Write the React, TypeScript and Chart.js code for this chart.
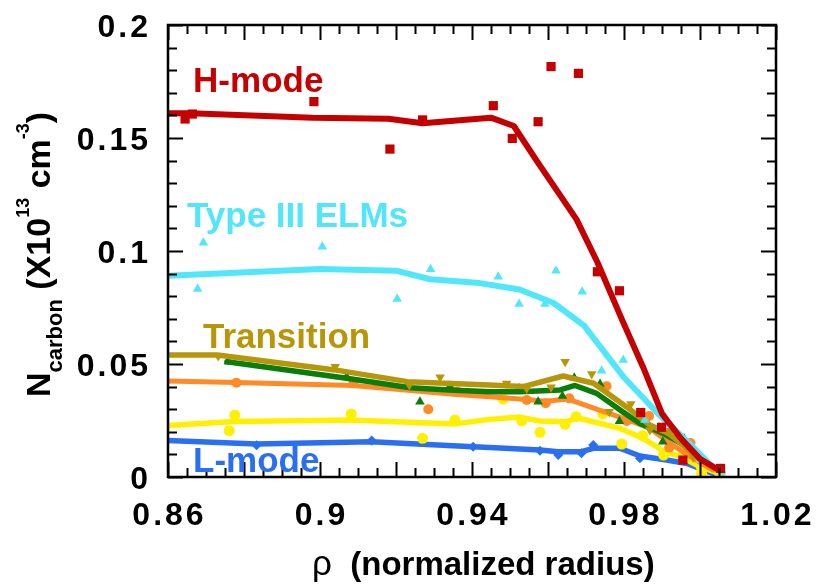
import { useEffect, useRef } from "react";
import { Chart, registerables } from "chart.js";

Chart.register(...registerables);

// Axis ranges and labelled ticks
const X_MIN = 0.86;
const X_MAX = 1.02;
const Y_MIN = 0;
const Y_MAX = 0.2;
const xTickLabels = [0.86, 0.9, 0.94, 0.98, 1.02];
const yTickLabels = [0, 0.05, 0.1, 0.15, 0.2];

// H-mode: fitted profile and measurements
const hModeFitX = [0.86, 0.866, 0.898, 0.918, 0.927, 0.945, 0.951, 0.957, 0.9675, 0.973, 0.9795, 0.985, 0.99, 0.995, 1.0, 1.005];
const hModeFitY = [0.161, 0.161, 0.159, 0.1585, 0.1565, 0.159, 0.1553, 0.14, 0.114, 0.095, 0.0695, 0.0487, 0.028, 0.017, 0.008, 0.003];
const hModeX = [0.8645, 0.8664, 0.8984, 0.9184, 0.927, 0.9456, 0.9506, 0.9574, 0.9608, 0.968, 0.973, 0.9788, 0.9844, 0.9899, 0.9955, 1.0054];
const hModeY = [0.1584, 0.1606, 0.1661, 0.1451, 0.158, 0.1643, 0.1498, 0.1572, 0.1816, 0.1786, 0.0908, 0.0824, 0.0285, 0.022, 0.0075, 0.0038];

// Type III ELMs
const elmFitX = [0.86, 0.9, 0.92, 0.929, 0.942, 0.9525, 0.9615, 0.9695, 0.98, 0.989, 0.9965, 1.003, 1.006];
const elmFitY = [0.089, 0.092, 0.0913, 0.0875, 0.0858, 0.083, 0.077, 0.067, 0.044, 0.028, 0.016, 0.005, 0.002];
const elmX = [0.8693, 0.8678, 0.9006, 0.9203, 0.9291, 0.9469, 0.9524, 0.9592, 0.9621, 0.969, 0.9798, 0.9741, 0.9855, 0.9908, 0.9954, 1.0, 1.0053];
const elmY = [0.1037, 0.0832, 0.1019, 0.0788, 0.0919, 0.0886, 0.0765, 0.0765, 0.0913, 0.082, 0.0518, 0.047, 0.0252, 0.0267, 0.0171, 0.0075, 0.0038];

// Transition
const transFitX = [0.86, 0.873, 0.9035, 0.923, 0.9445, 0.9535, 0.964, 0.972, 0.9807, 0.9868, 0.992, 0.998, 1.0035];
const transFitY = [0.054, 0.054, 0.0475, 0.0422, 0.0407, 0.04, 0.0447, 0.0415, 0.031, 0.023, 0.019, 0.0105, 0.004];
const transX = [0.8732, 0.904, 0.9235, 0.9316, 0.9491, 0.9544, 0.9608, 0.9645, 0.9715, 0.9761, 0.9818, 0.9868, 0.9923, 0.9982];
const transY = [0.0535, 0.0488, 0.0407, 0.0441, 0.0414, 0.0392, 0.0397, 0.051, 0.0456, 0.0289, 0.0323, 0.0208, 0.0205, 0.0087];

// Green profile
const greenFitX = [0.8755, 0.907, 0.9237, 0.934, 0.9447, 0.9526, 0.9632, 0.9671, 0.9728, 0.979, 0.9842, 0.9903, 0.9965, 1.0034];
const greenFitY = [0.051, 0.0437, 0.0395, 0.0385, 0.0377, 0.0377, 0.0385, 0.0405, 0.037, 0.0296, 0.0237, 0.0193, 0.0134, 0.0046];
const greenX = [0.8759, 0.907, 0.9263, 0.9342, 0.9524, 0.9574, 0.9638, 0.9669, 0.9737, 0.9788, 0.9902, 0.9958];
const greenY = [0.051, 0.0444, 0.0333, 0.0403, 0.0392, 0.0333, 0.0358, 0.0439, 0.0412, 0.0247, 0.0156, 0.0169];

// Orange profile
const orangeFitX = [0.86, 0.878, 0.9088, 0.936, 0.9447, 0.9544, 0.9592, 0.9653, 0.9737, 0.9807, 0.9868, 0.9921, 0.9974, 1.0034];
const orangeFitY = [0.0425, 0.0418, 0.0405, 0.0365, 0.0355, 0.0343, 0.0335, 0.0345, 0.0295, 0.0255, 0.0215, 0.015, 0.009, 0.003];
const orangeX = [0.878, 0.9088, 0.9285, 0.9361, 0.9544, 0.9594, 0.9656, 0.9754, 0.9807, 0.9866, 0.9919, 0.9975];
const orangeY = [0.0417, 0.0415, 0.03, 0.0378, 0.0341, 0.0326, 0.0348, 0.0402, 0.0248, 0.027, 0.013, 0.015];

// Yellow profile
const yellowFitX = [0.86, 0.8776, 0.908, 0.9355, 0.9445, 0.9526, 0.9579, 0.9649, 0.9676, 0.979, 0.9851, 0.9904, 0.9956, 1.0, 1.0053];
const yellowFitY = [0.0228, 0.0246, 0.0252, 0.0235, 0.0255, 0.0265, 0.0248, 0.0245, 0.0262, 0.0215, 0.017, 0.0115, 0.0085, 0.0045, 0.0015];
const yellowX = [0.8776, 0.8761, 0.9082, 0.9355, 0.927, 0.9482, 0.9531, 0.9579, 0.9645, 0.9674, 0.9744, 0.9794, 0.9849, 0.9904, 0.9956, 1.0003, 1.0004, 1.0053];
const yellowY = [0.0274, 0.0205, 0.0279, 0.0252, 0.0171, 0.0345, 0.0248, 0.0198, 0.0233, 0.0267, 0.0279, 0.0146, 0.0183, 0.0097, 0.0097, 0.0046, 0.0016, 0.0012];

// L-mode
const lModeFitX = [0.86, 0.8833, 0.9136, 0.9403, 0.9447, 0.9579, 0.9627, 0.9688, 0.9719, 0.9789, 0.9842, 0.9912, 0.9965, 1.0034];
const lModeFitY = [0.0161, 0.0146, 0.0156, 0.0134, 0.013, 0.0119, 0.0112, 0.0112, 0.0127, 0.0127, 0.0093, 0.0075, 0.006, 0.0016];
const lModeX = [0.8833, 0.9136, 0.9403, 0.9579, 0.9627, 0.9688, 0.9719, 0.9794, 0.9842, 0.9956];
const lModeY = [0.0141, 0.0161, 0.0134, 0.0116, 0.0097, 0.0105, 0.0142, 0.0134, 0.0083, 0.0075];

// Series annotation labels (text, anchor in data units)
const labelTexts = ["H-mode", "Type III ELMs", "Transition", "L-mode"];
const labelX = [0.8666, 0.865, 0.8692, 0.8666];
const labelY = [0.1704, 0.1106, 0.0571, 0.0022];

const RED = "#c40000";
const CYAN = "#52e6fb";
const OLIVE = "#b8960a";
const GREEN = "#0b7d0b";
const ORANGE = "#ff8a26";
const YELLOW = "#fff000";
const BLUE = "#2a6ff2";
const labelColors = [RED, CYAN, OLIVE, BLUE];

const FONT = '"Liberation Sans", Arial, Helvetica, sans-serif';

type Pt = { x: number; y: number };
const zip = (xs: number[], ys: number[]): Pt[] => xs.map((x, i) => ({ x, y: ys[i] }));

const seriesList = [
  { color: RED, fitX: hModeFitX, fitY: hModeFitY, px: hModeX, py: hModeY, style: "rect", r: 6.5, lw: 6 },
  { color: CYAN, fitX: elmFitX, fitY: elmFitY, px: elmX, py: elmY, style: "triangle", r: 5.5, lw: 6 },
  { color: OLIVE, fitX: transFitX, fitY: transFitY, px: transX, py: transY, style: "triangle", r: 5.5, lw: 5.5, rot: 180 },
  { color: GREEN, fitX: greenFitX, fitY: greenFitY, px: greenX, py: greenY, style: "triangle", r: 5.5, lw: 5.5 },
  { color: ORANGE, fitX: orangeFitX, fitY: orangeFitY, px: orangeX, py: orangeY, style: "circle", r: 5, lw: 5 },
  { color: YELLOW, fitX: yellowFitX, fitY: yellowFitY, px: yellowX, py: yellowY, style: "circle", r: 5.5, lw: 5.5 },
  { color: BLUE, fitX: lModeFitX, fitY: lModeFitY, px: lModeX, py: lModeY, style: "rectRot", r: 5, lw: 5.5 },
];

// Frame, inward ticks, tick labels, axis titles and series labels
const framePlugin = {
  id: "frame",
  afterDatasetsDraw(chart: any) {
    const { ctx, chartArea: a, scales } = chart;
    const xs = scales.x;
    const ys = scales.y;
    ctx.save();
    ctx.strokeStyle = "#000";
    ctx.lineWidth = 2;
    ctx.beginPath();
    for (let i = 0; i <= 32; i++) {
      const v = X_MIN + i * 0.005;
      const px = Math.round(xs.getPixelForValue(v)) + 0.5;
      const len = i % 4 === 0 ? 15 : 9;
      ctx.moveTo(px, a.bottom);
      ctx.lineTo(px, a.bottom - len);
      ctx.moveTo(px, a.top);
      ctx.lineTo(px, a.top + len);
    }
    for (let i = 0; i <= 20; i++) {
      const v = Y_MIN + i * 0.01;
      const py = Math.round(ys.getPixelForValue(v)) + 0.5;
      const len = i % 5 === 0 ? 15 : 9;
      ctx.moveTo(a.left, py);
      ctx.lineTo(a.left + len, py);
      ctx.moveTo(a.right, py);
      ctx.lineTo(a.right - len, py);
    }
    ctx.stroke();
    ctx.lineWidth = 2.5;
    ctx.strokeRect(a.left, a.top, a.right - a.left, a.bottom - a.top);

    // tick labels
    ctx.fillStyle = "#000";
    ctx.font = `bold 32px ${FONT}`;
    (ctx as any).letterSpacing = "3px";
    ctx.textBaseline = "alphabetic";
    ctx.textAlign = "center";
    for (const v of xTickLabels) {
      ctx.fillText(String(v), xs.getPixelForValue(v) + 1.5, a.bottom + 48);
    }
    ctx.textAlign = "right";
    for (const v of yTickLabels) {
      ctx.fillText(String(v), a.left - 17, ys.getPixelForValue(v) + 11.5);
    }
    (ctx as any).letterSpacing = "0px";

    // x title
    ctx.textAlign = "left";
    let cx = 312;
    ctx.font = `35px ${FONT}`;
    ctx.fillText("\u03c1", cx, 575);
    cx += ctx.measureText("\u03c1").width;
    ctx.font = `bold 33px ${FONT}`;
    ctx.fillText("  (normalized radius)", cx, 575);

    // y title, rotated
    const runs = [
      { t: "N", s: 34, d: 0 },
      { t: "carbon", s: 22, d: 12 },
      { t: " (X10", s: 34, d: 0 },
      { t: "13", s: 18, d: -21 },
      { t: " cm", s: 34, d: 0 },
      { t: "-3", s: 18, d: -21 },
      { t: ")", s: 34, d: 0 },
    ];
    ctx.translate(50, 397);
    ctx.rotate(-Math.PI / 2);
    let tx = 0;
    for (const r of runs) {
      ctx.font = `bold ${r.s}px ${FONT}`;
      ctx.fillText(r.t, tx, r.d);
      tx += ctx.measureText(r.t).width;
    }
    ctx.restore();

    // series labels
    ctx.save();
    ctx.font = `bold 35px ${FONT}`;
    ctx.textAlign = "left";
    ctx.textBaseline = "alphabetic";
    labelTexts.forEach((t, i) => {
      ctx.fillStyle = labelColors[i];
      ctx.fillText(t, xs.getPixelForValue(labelX[i]), ys.getPixelForValue(labelY[i]));
    });
    ctx.restore();
  },
};

export default function App() {
  const canvasRef = useRef<HTMLCanvasElement | null>(null);

  useEffect(() => {
    const canvas = canvasRef.current;
    if (!canvas) return;
    const datasets: any[] = [];
    seriesList.forEach((s, k) => {
      datasets.push({
        data: zip(s.fitX, s.fitY),
        showLine: true,
        borderColor: s.color,
        borderWidth: s.lw,
        pointRadius: 0,
        tension: 0,
        borderJoinStyle: "round",
        borderCapStyle: "round",
        order: k * 2 + 1,
      });
      datasets.push({
        data: zip(s.px, s.py),
        showLine: false,
        pointStyle: s.style,
        pointRadius: s.r,
        pointRotation: (s as any).rot || 0,
        backgroundColor: s.color,
        borderColor: s.color,
        borderWidth: 0,
        order: k * 2,
      });
    });

    const chart = new Chart(canvas, {
      type: "scatter",
      data: { datasets },
      options: {
        animation: false,
        responsive: false,
        devicePixelRatio: 1,
        layout: { padding: { left: 168, top: 25, right: 53, bottom: 107 } },
        plugins: { legend: { display: false }, tooltip: { enabled: false } },
        scales: {
          x: { type: "linear", min: X_MIN, max: X_MAX, display: false },
          y: { type: "linear", min: Y_MIN, max: Y_MAX, display: false },
        },
      },
      plugins: [framePlugin],
    });
    return () => chart.destroy();
  }, []);

  return (
    <div style={{ position: "fixed", left: 0, top: 0, width: 829, height: 584, background: "#fff" }}>
      <canvas ref={canvasRef} width={829} height={584} style={{ display: "block" }} />
    </div>
  );
}
